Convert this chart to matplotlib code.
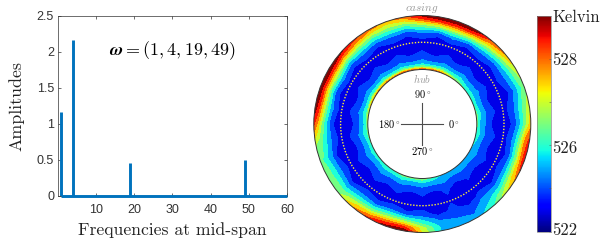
import numpy as np
import matplotlib
matplotlib.use('Agg')
import matplotlib.pyplot as plt
from matplotlib.patches import Circle
from matplotlib.cm import ScalarMappable
from matplotlib.colors import Normalize

plt.rcParams['mathtext.fontset'] = 'cm'
plt.rcParams['axes.unicode_minus'] = False

# spectrum at mid-span
peak_freqs = [1, 4, 19, 49]
peak_amps = [1.16, 2.16, 0.46, 0.50]
freq_range = [1, 60]
xtick_vals = [10, 20, 30, 40, 50, 60]
ytick_vals = [0, 0.5, 1, 1.5, 2, 2.5]
ytick_text = ['0', '0.5', '1', '1.5', '2', '2.5']

# temperature above 522 K read from the contour map
# rows: azimuth 0, 10, ... 350 deg, columns: span stations hub -> casing
span = [0, .05, .1, .17, .28, .42, .55, .68, .77, .85, .92, 1]
azimuth = list(range(0, 360, 10))
temp_rows = [
    [4.5, 3.0, 2.7, 1.8, 0.9, 0.4, 0.5, 1.2, 2.4, 3.6, 5.0, 6.5],
    [4.5, 3.3, 2.9, 2.1, 1.3, 0.7, 0.8, 1.5, 2.6, 3.6, 4.7, 5.5],
    [4.0, 3.0, 2.6, 1.7, 0.9, 0.4, 0.5, 0.9, 1.8, 2.7, 3.7, 4.5],
    [3.5, 3.1, 2.8, 2.1, 1.3, 0.7, 0.8, 1.4, 2.4, 3.3, 4.4, 5.5],
    [4.0, 3.1, 2.6, 1.7, 0.9, 0.4, 0.5, 1.2, 2.5, 3.9, 5.6, 7.0],
    [5.0, 3.6, 3.0, 2.1, 1.3, 0.7, 0.8, 1.7, 3.1, 4.7, 6.4, 7.9],
    [6.0, 3.7, 2.7, 1.7, 0.9, 0.4, 0.5, 1.3, 3.4, 5.8, 8.0, 9.7],
    [7.5, 4.5, 3.1, 2.1, 1.3, 0.7, 0.8, 2.2, 4.1, 6.3, 8.4, 9.9],
    [8.0, 4.4, 2.8, 1.7, 0.9, 0.4, 0.5, 1.3, 3.4, 5.8, 8.2, 9.9],
    [8.0, 4.6, 3.1, 2.1, 1.3, 0.7, 0.8, 1.8, 3.5, 5.3, 7.5, 9.2],
    [8.0, 4.2, 2.7, 1.7, 0.9, 0.4, 0.5, 1.2, 2.7, 4.2, 5.8, 7.5],
    [8.0, 4.6, 3.1, 2.1, 1.3, 0.7, 0.8, 1.6, 3.0, 4.3, 5.6, 6.5],
    [7.5, 4.0, 2.7, 1.7, 0.9, 0.4, 0.5, 1.2, 2.8, 4.2, 5.8, 7.5],
    [7.5, 4.4, 3.1, 2.1, 1.3, 0.7, 0.8, 1.9, 3.4, 5.0, 6.8, 8.2],
    [7.5, 3.9, 2.7, 1.7, 0.9, 0.4, 0.5, 1.3, 3.2, 5.4, 7.5, 9.3],
    [7.0, 4.2, 3.0, 2.1, 1.3, 0.7, 0.8, 2.3, 4.2, 6.3, 8.4, 9.9],
    [6.5, 3.7, 2.7, 1.7, 0.9, 0.4, 0.5, 1.4, 3.6, 6.0, 8.2, 9.9],
    [5.5, 3.6, 3.0, 2.1, 1.3, 0.7, 0.8, 2.2, 4.0, 6.0, 8.1, 9.7],
    [5.0, 3.2, 2.7, 1.7, 0.9, 0.4, 0.5, 1.2, 3.0, 4.6, 6.5, 8.2],
    [4.5, 3.4, 2.9, 2.1, 1.3, 0.7, 0.8, 1.7, 2.8, 3.7, 4.6, 5.2],
    [4.0, 3.0, 2.5, 1.7, 0.9, 0.4, 0.5, 0.9, 2.1, 3.0, 3.8, 4.3],
    [3.5, 3.1, 2.7, 2.0, 1.3, 0.7, 0.8, 1.5, 2.6, 3.5, 4.2, 4.5],
    [3.5, 2.9, 2.4, 1.6, 0.9, 0.4, 0.5, 1.0, 2.3, 3.3, 4.3, 5.0],
    [4.0, 3.2, 2.7, 2.0, 1.3, 0.7, 0.8, 1.8, 3.0, 4.3, 5.8, 7.0],
    [4.0, 3.1, 2.5, 1.6, 0.9, 0.4, 0.5, 1.3, 3.1, 4.7, 6.6, 8.3],
    [4.5, 3.3, 2.8, 2.0, 1.3, 0.7, 0.8, 2.1, 3.8, 5.8, 7.8, 9.4],
    [4.5, 3.1, 2.5, 1.6, 0.8, 0.3, 0.4, 1.3, 3.5, 5.7, 8.0, 9.9],
    [5.0, 3.4, 2.7, 1.9, 1.2, 0.6, 0.8, 1.5, 2.9, 4.1, 5.4, 6.0],
    [4.0, 3.0, 2.4, 1.5, 0.7, 0.3, 0.4, 0.7, 1.7, 2.4, 2.9, 3.0],
    [3.0, 2.8, 2.4, 1.8, 1.2, 0.9, 1.0, 1.2, 1.7, 2.0, 2.3, 2.5],
    [2.7, 2.3, 1.9, 1.3, 0.6, 0.3, 0.4, 0.7, 1.3, 1.6, 2.0, 2.5],
    [2.5, 2.4, 2.1, 1.7, 1.1, 0.8, 0.8, 1.2, 2.2, 2.7, 3.1, 3.5],
    [2.5, 2.3, 2.0, 1.4, 0.8, 0.4, 0.5, 1.0, 2.2, 3.3, 4.5, 5.5],
    [2.8, 2.6, 2.3, 1.7, 1.2, 0.7, 0.8, 1.6, 3.0, 4.5, 6.1, 7.3],
    [3.2, 2.7, 2.2, 1.5, 0.9, 0.4, 0.5, 1.3, 3.2, 5.0, 7.0, 8.9],
    [3.8, 3.1, 2.6, 1.9, 1.3, 0.7, 0.8, 2.0, 3.4, 5.2, 7.3, 8.5],
]
temp_levels = list(range(522, 533))
angle_labels = ['$0^\\circ$', '$90^\\circ$', '$180^\\circ$', '$270^\\circ$']

W, H = 604, 246
R_OUT = 108.5
R_HUB = 54.5 / R_OUT
R_DOT = 81.7 / R_OUT
GRAY = '#4d4d4d'


def px_box(x0, y0, x1, y1):
    return [x0 / W, 1 - y1 / H, (x1 - x0) / W, (y1 - y0) / H]


fig = plt.figure(figsize=(W / 100, H / 100), dpi=100)

# left panel
ax = fig.add_axes(px_box(57.5, 15.5, 287, 196))
ax.plot(freq_range, [0, 0], color='#0072BD', lw=2.1, solid_capstyle='butt', zorder=3, clip_on=False)
ax.vlines(peak_freqs, 0, peak_amps, color='#0072BD', lw=2.1, zorder=3)
ax.set_xlim(0, 60)
ax.set_ylim(0, 2.5)
ax.set_xticks(xtick_vals)
ax.set_yticks(ytick_vals)
ax.set_yticklabels(ytick_text)
ax.tick_params(direction='in', top=True, right=True, length=2.2, width=0.5,
               color='#333333', labelcolor='#333333', labelsize=9, pad=2.5)
ax.tick_params(axis='x', pad=6)
for lab in ax.get_xticklabels() + ax.get_yticklabels():
    lab.set_family('Liberation Sans')
for sp in ax.spines.values():
    sp.set_linewidth(0.5)
    sp.set_color('#333333')
ax.set_xlabel('Frequencies at mid-span', family='cmr10', fontsize=12.7, labelpad=4, color='#222222')
ax.set_ylabel('Amplitudes', family='cmr10', fontsize=12.9, labelpad=9, color='#222222')
ax.text(30, 2.02, r'$\boldsymbol{\omega} = (1, 4, 19, 49)$', fontsize=13, ha='center', va='center')

# annulus
cx, cy = 422.3, 124
pad = 120
ax2 = fig.add_axes(px_box(cx - pad, cy - pad, cx + pad, cy + pad))
ax2.set_xlim(-pad / R_OUT, pad / R_OUT)
ax2.set_ylim(-pad / R_OUT, pad / R_OUT)
ax2.axis('off')

span_arr = np.array(span)
az = np.radians(azimuth + [360])
radius = R_HUB + (1 - R_HUB) * span_arr
# walls repeated just past the edge, the circles below trim them
radius = np.concatenate([[R_HUB - 0.03], radius, [1.03]])
temps = np.array(temp_rows) + 522
temps = np.vstack([temps, temps[0]])
temps = np.hstack([temps[:, :1], temps, temps[:, -1:]])
rr, aa = np.meshgrid(radius, az)
# each band takes the colour near its upper end of the scale
cs = ax2.contourf(rr * np.cos(aa), rr * np.sin(aa), temps, levels=temp_levels,
                  cmap='jet', vmin=521.6, vmax=531.6)
clip = Circle((0, 0), 1, transform=ax2.transData)
cs.set_clip_path(clip)

ax2.add_patch(Circle((0, 0), 1, fill=False, ec='#333333', lw=0.7, zorder=4))
ax2.add_patch(Circle((0, 0), R_HUB, fc='white', ec='#333333', lw=0.7, zorder=4))
ax2.add_patch(Circle((0, 0), R_DOT, fill=False, ec='#ffee33', lw=1.0, ls=(0, (1, 1.2)), zorder=5))

ax2.plot([-0.195, 0.195], [0, 0], color=GRAY, lw=0.8, zorder=6)
ax2.plot([0, 0], [-0.195, 0.195], color=GRAY, lw=0.8, zorder=6)
ax2.text(0.235, 0, angle_labels[0], fontsize=7.5, ha='left', va='center', zorder=6)
ax2.text(0, 0.22, angle_labels[1], fontsize=7.5, ha='center', va='bottom', zorder=6)
ax2.text(-0.205, 0, angle_labels[2], fontsize=7.5, ha='right', va='center', zorder=6)
ax2.text(0, -0.19, angle_labels[3], fontsize=7.5, ha='center', va='top', zorder=6)
ax2.text(0, 0.42, r'$\mathit{hub}$', fontsize=7.5, color='#999999', ha='center', va='center', zorder=6)
ax2.text(0, 1.07, r'$\mathit{casing}$', fontsize=8, color='#999999', ha='center', va='center', zorder=6)

# colorbar
cax = fig.add_axes(px_box(537, 15.5, 550.5, 231.5))
sm = ScalarMappable(norm=Normalize(522, 532), cmap='jet')
cb = fig.colorbar(sm, cax=cax)
cb.set_ticks(temp_levels[::2])
cb.set_ticklabels([])
cb.ax.tick_params(direction='in', length=1.5, width=0.4, color='#555555', right=True)
cb.outline.set_linewidth(0.5)
cb.outline.set_edgecolor('#888888')
cbar_text = [('Kelvin', 17), ('528', 60), ('526', 148), ('522', 230)]
for txt, yp in cbar_text:
    fig.text(552 / W, 1 - yp / H, txt, family='cmr10', fontsize=12, ha='left', va='center', color='#222222')

fig.savefig('out.png', dpi=100)
